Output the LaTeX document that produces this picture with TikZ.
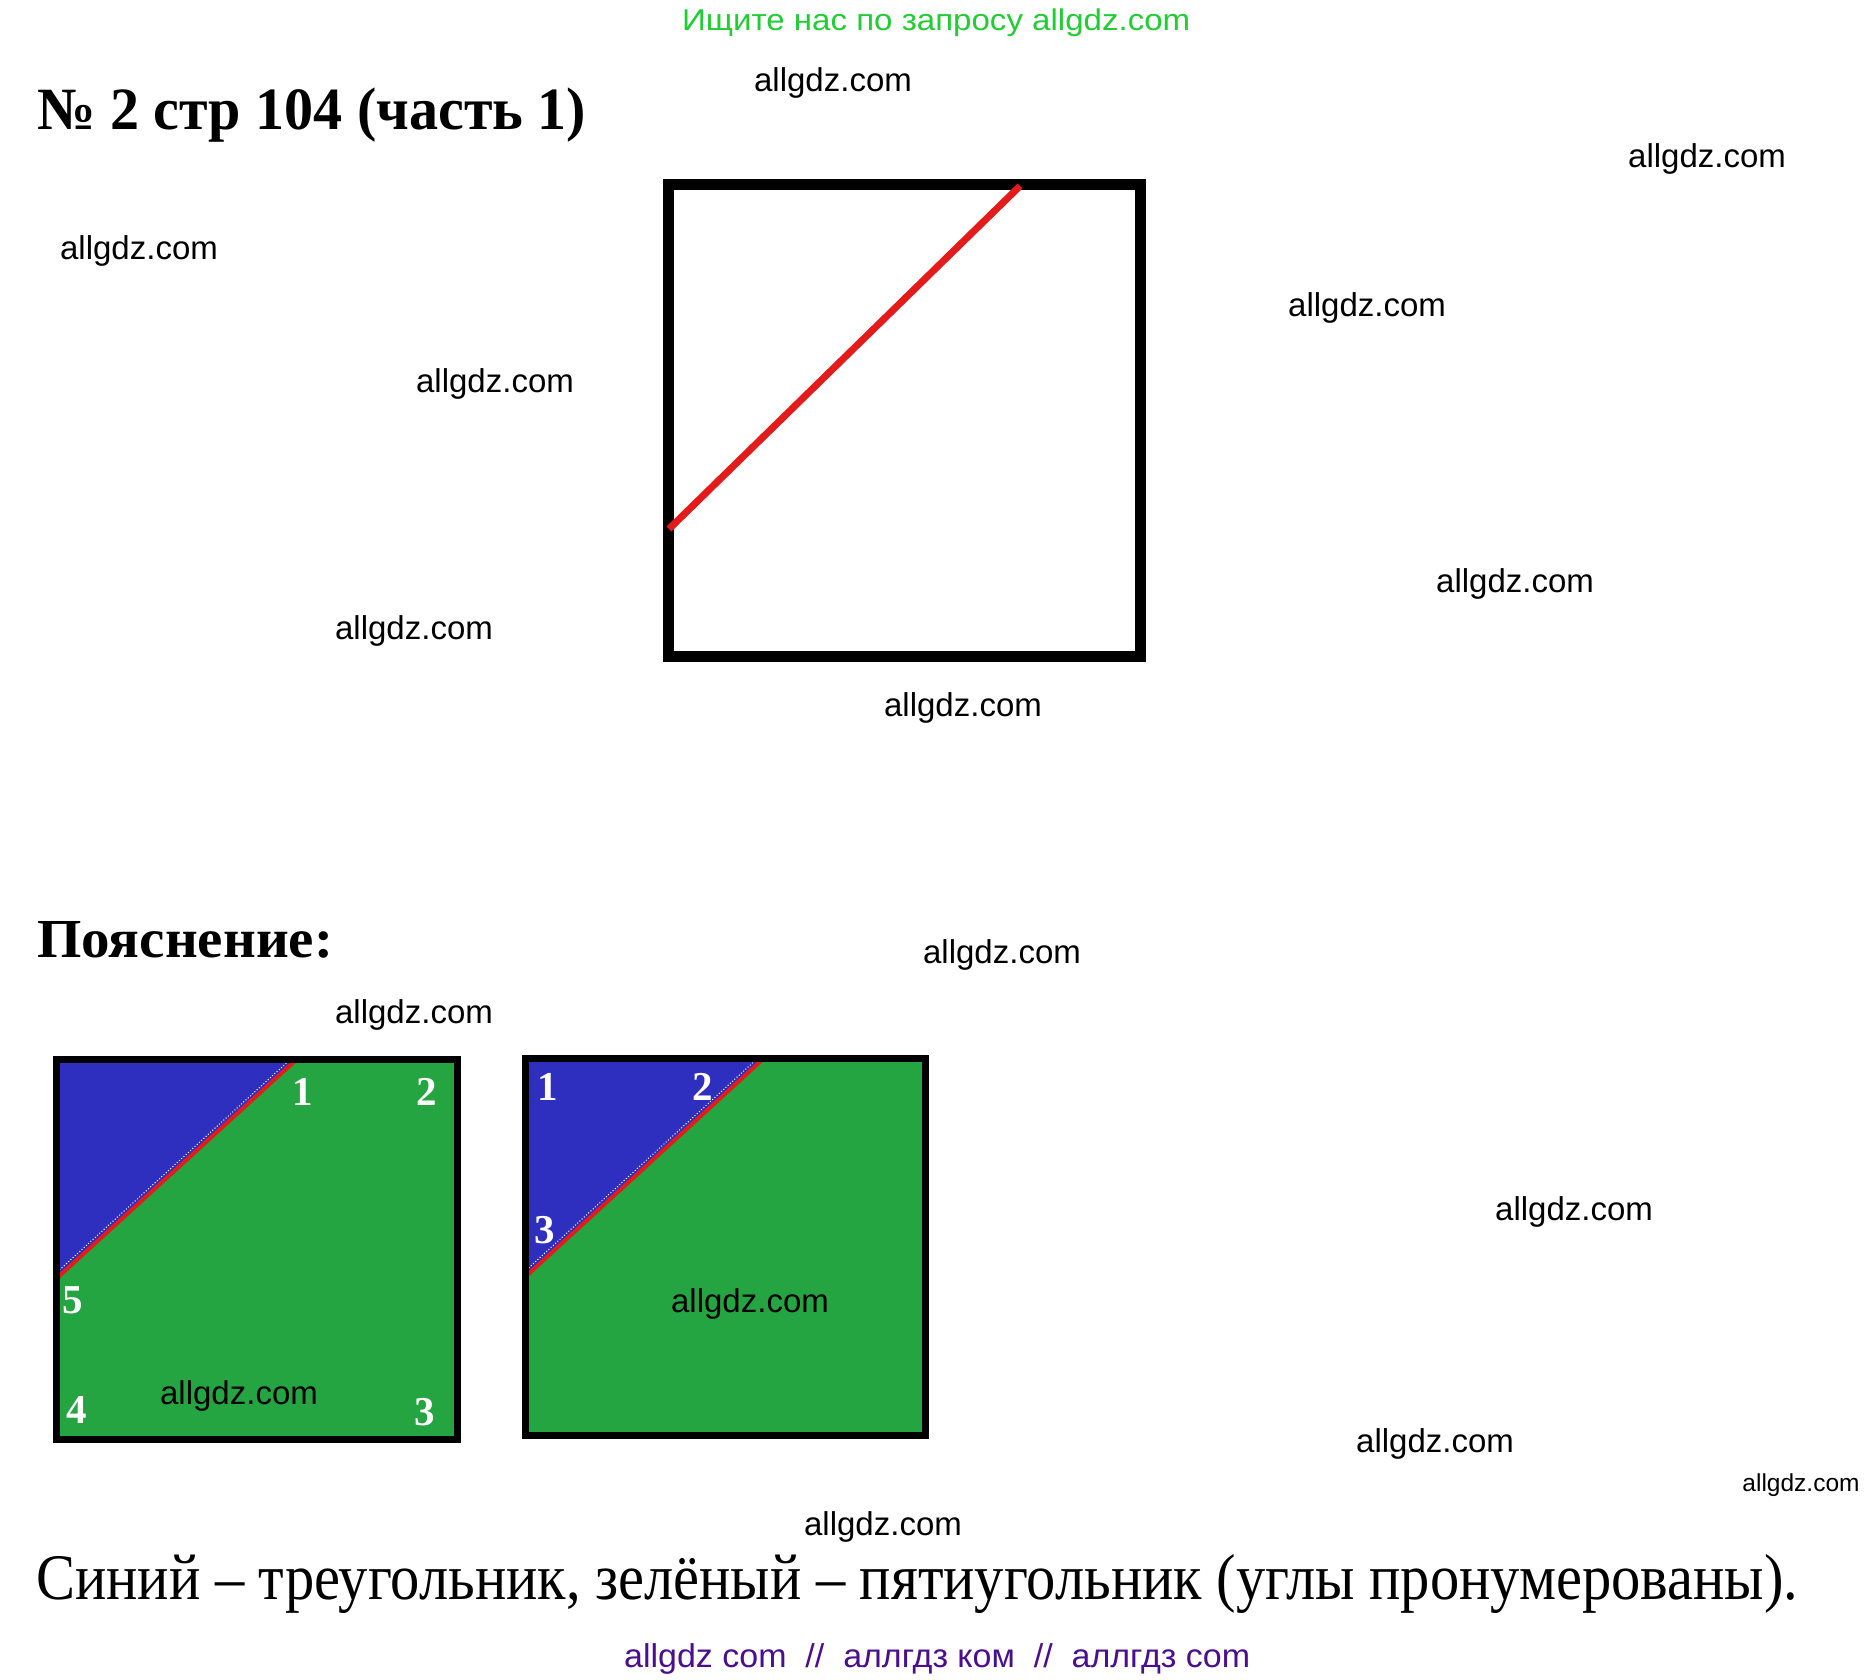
\documentclass[tikz,border=0pt]{standalone}
\usepackage{fontspec}
\setmainfont{Liberation Serif}
\setsansfont{Liberation Sans}
\usepackage{graphicx}
\usepackage{xcolor}
\usetikzlibrary{positioning}
\definecolor{searchgreen}{HTML}{22CC33}
\definecolor{footerpurple}{HTML}{4A0E8F}
\definecolor{partblue}{HTML}{2E2EBF}
\definecolor{partgreen}{HTML}{25A541}
\definecolor{cutred}{HTML}{E31B1B}

\begin{document}
\begin{tikzpicture}[x=1pt,y=-1pt,
    wmark/.style={font=\sffamily\fontsize{33}{33}\selectfont, anchor=base, inner sep=0},
    cornernum/.style={font=\bfseries\fontsize{41}{41}\selectfont, text=white, inner sep=0},
    cutline/.style={cutred, line width=4pt},
    cuthint/.style={white, line width=1pt, dotted}]
    \useasboundingbox[fill=white] (0,0) rectangle (1873,1679);

    % Search hint
    \node[anchor=base west, inner sep=0, font=\sffamily, color=searchgreen] (hint) at (682,30)
        {\resizebox{508pt}{\height}{\fontsize{30}{30}\selectfont Ищите нас по запросу allgdz.com}};

    % Title
    \node[anchor=base west, inner sep=0] (title) at (37,129)
        {\resizebox{549pt}{\height}{\fontsize{60}{60}\selectfont\bfseries № 2 стр 104 (часть 1)}};

    % Square with the cut
    \draw[line width=11pt] (668.5,184.5) rectangle (1140.5,656.5);
    \draw[cutred, line width=7pt] (669,529) -- (1020,186);

    % Explanation
    \node[anchor=base west, inner sep=0] (expl) at (37,957)
        {\resizebox{296pt}{\height}{\fontsize{55}{55}\selectfont\bfseries Пояснение:}};

    % Left part: blue triangle, green pentagon
    \fill[partgreen] (56,1059) rectangle (457,1439);
    \fill[partblue] (56,1059) -- (297,1059) -- (57,1278) -- cycle;
    \draw[cutline] (57,1278) -- (297,1059);
    \draw[cuthint] (55,1274) -- (293,1057);
    \draw[line width=7pt] (56,1059) rectangle (457,1439);
    \foreach \x/\y/\n in {303/1092/1, 427/1092/2, 425/1412/3, 77/1410/4, 73/1300/5}
        \node[cornernum] (a\n) at (\x,\y) {\n};

    % Right part: corners of the triangle
    \fill[partgreen] (525,1058) rectangle (925.5,1435.5);
    \fill[partblue] (525,1058) -- (763,1058) -- (525,1278) -- cycle;
    \draw[cutline] (524,1278) -- (763,1059);
    \draw[cuthint] (522,1274) -- (759,1057);
    \draw[line width=7pt] (525,1058) rectangle (925.5,1435.5);
    \foreach \x/\y/\n in {548/1087/1, 703/1087/2, 545/1230/3}
        \node[cornernum] (b\n) at (\x,\y) {\n};

    % Answer line
    \node[anchor=base west, inner sep=0] (answer) at (36,1599)
        {\resizebox{1762pt}{\height}{\fontsize{65}{65}\selectfont Синий -- треугольник, зелёный -- пятиугольник (углы пронумерованы).}};

    % Footer
    \node[anchor=base west, inner sep=0, font=\sffamily, color=footerpurple] (footer) at (624,1667)
        {\resizebox{626pt}{\height}{\fontsize{33}{33}\selectfont allgdz com~~//~~аллгдз ком~~//~~аллгдз com}};

    % Watermarks
    \foreach \x/\y [count=\i] in {833/91, 1707/167, 139/259, 1367/316, 495/392, 1515/592,
        414/639, 963/716, 1002/963, 414/1023, 1574/1220, 750/1312, 239/1404, 1435/1452, 883/1535}
        \node[wmark] (wm\i) at (\x,\y) {allgdz.com};
    \node[wmark, font=\sffamily\fontsize{24.5}{24.5}\selectfont] (wmsmall) at (1801,1491) {allgdz.com};
\end{tikzpicture}
\end{document}
